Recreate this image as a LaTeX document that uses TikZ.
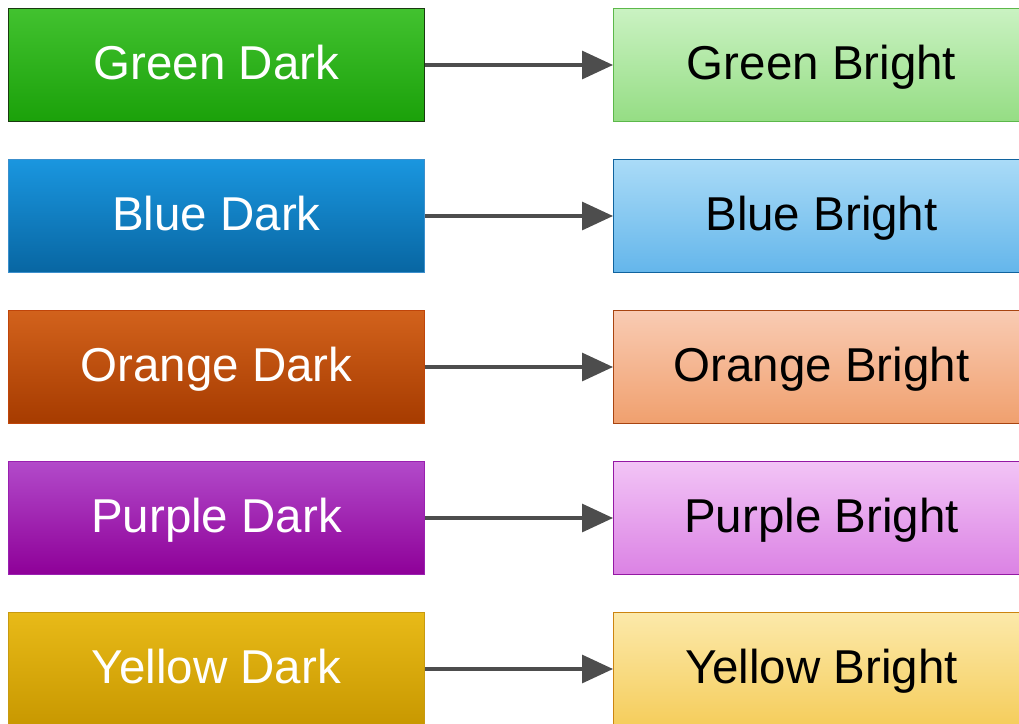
\documentclass[tikz,border=0pt]{standalone}
\usepackage{fontspec}
\setmainfont{Liberation Sans}
\usetikzlibrary{arrows.meta}
\definecolor{gdT}{HTML}{42C22F}\definecolor{gdB}{HTML}{1BA10A}\definecolor{gdS}{HTML}{1A3A10}
\definecolor{gbT}{HTML}{CAF2C2}\definecolor{gbB}{HTML}{95DD84}\definecolor{gbS}{HTML}{5CB84A}
\definecolor{bdT}{HTML}{1A96DF}\definecolor{bdB}{HTML}{0866A2}\definecolor{bdS}{HTML}{3C8FCC}
\definecolor{bbT}{HTML}{AADBF7}\definecolor{bbB}{HTML}{64B6EB}\definecolor{bbS}{HTML}{10639E}
\definecolor{odT}{HTML}{D2621C}\definecolor{odB}{HTML}{A63B00}\definecolor{odS}{HTML}{C0450A}
\definecolor{obT}{HTML}{F9CBB3}\definecolor{obB}{HTML}{F0A06E}\definecolor{obS}{HTML}{A84410}
\definecolor{pdT}{HTML}{B24ACA}\definecolor{pdB}{HTML}{8E0098}\definecolor{pdS}{HTML}{9A20B0}
\definecolor{pbT}{HTML}{F2C4F6}\definecolor{pbB}{HTML}{DB82E4}\definecolor{pbS}{HTML}{9418A4}
\definecolor{ydT}{HTML}{E8BA18}\definecolor{ydB}{HTML}{C89800}\definecolor{ydS}{HTML}{C89A10}
\definecolor{ybT}{HTML}{FCE9AA}\definecolor{ybB}{HTML}{F5CD5C}\definecolor{ybS}{HTML}{CC8410}
\definecolor{arr}{HTML}{4D4D4D}
\tikzset{
  box/.style={anchor=north west, minimum width=416pt, minimum height=113pt, inner sep=0pt,
    line width=1pt, text height=42pt, text depth=13pt, font=\fontsize{47.5}{57}\selectfont},
  dark/.style={box, text=white},
  bright/.style={box, text=black},
  conn/.style={draw=arr, line width=3.2pt, -{Triangle[length=31pt,width=28pt]}},
}
\begin{document}
\begin{tikzpicture}[x=1pt,y=1pt]
\useasboundingbox (0,0) rectangle (1019,-723);
\clip (0,0) rectangle (1019,-723);
\node[dark, top color=gdT, bottom color=gdB, draw=gdS] (gd) at (8,-8) {Green Dark};
\node[bright, top color=gbT, bottom color=gbB, draw=gbS] (gb) at (613,-8) {Green Bright};
\node[dark, top color=bdT, bottom color=bdB, draw=bdS] (bd) at (8,-159) {Blue Dark};
\node[bright, top color=bbT, bottom color=bbB, draw=bbS] (bb) at (613,-159) {Blue Bright};
\node[dark, top color=odT, bottom color=odB, draw=odS] (od) at (8,-310) {Orange Dark};
\node[bright, top color=obT, bottom color=obB, draw=obS] (ob) at (613,-310) {Orange Bright};
\node[dark, top color=pdT, bottom color=pdB, draw=pdS] (pd) at (8,-461) {Purple Dark};
\node[bright, top color=pbT, bottom color=pbB, draw=pbS] (pb) at (613,-461) {Purple Bright};
\node[dark, top color=ydT, bottom color=ydB, draw=ydS] (yd) at (8,-612) {Yellow Dark};
\node[bright, top color=ybT, bottom color=ybB, draw=ybS] (yb) at (613,-612) {Yellow Bright};
\draw[conn] (gd.east) -- (gb.west);
\draw[conn] (bd.east) -- (bb.west);
\draw[conn] (od.east) -- (ob.west);
\draw[conn] (pd.east) -- (pb.west);
\draw[conn] (yd.east) -- (yb.west);
\end{tikzpicture}
\end{document}
